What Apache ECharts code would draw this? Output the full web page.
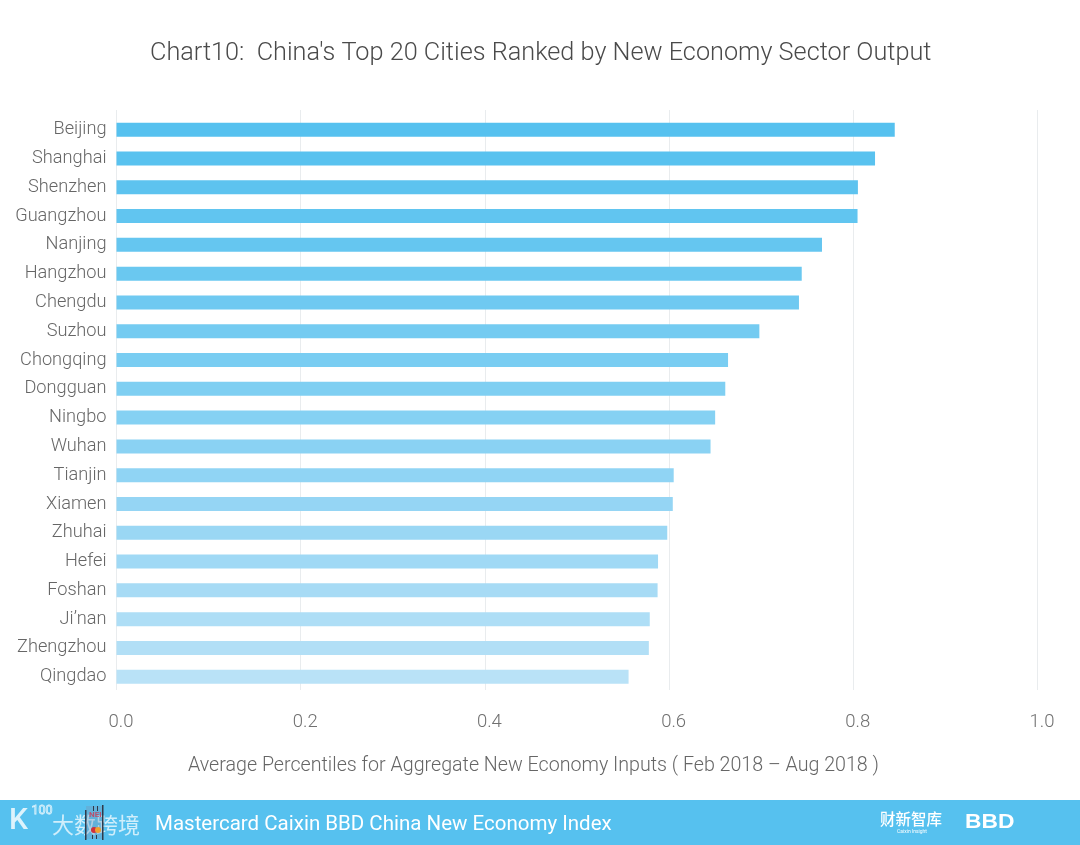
<!DOCTYPE html>
<html><head><meta charset="utf-8">
<style>html,body{margin:0;padding:0;background:#fff}#c{width:1080px;height:845px}</style>
<script src="https://cdn.jsdelivr.net/npm/echarts@6/dist/echarts.min.js"></script>
</head><body><div id="c"></div>
<script>
const cities = ["Beijing","Shanghai","Shenzhen","Guangzhou","Nanjing","Hangzhou","Chengdu","Suzhou","Chongqing","Dongguan","Ningbo","Wuhan","Tianjin","Xiamen","Zhuhai","Hefei","Foshan","Ji’nan","Zhengzhou","Qingdao"];
const values = [0.845,0.8236,0.805,0.8046,0.766,0.744,0.741,0.698,0.664,0.661,0.65,0.645,0.605,0.604,0.598,0.588,0.5875,0.579,0.578,0.556];
const barColors = ["#56c1ef","#59c2ef","#5dc3ef","#61c5f0","#65c6f0","#6ac8f0","#6fc9f1","#74cbf1","#79cdf2","#7fcff2","#85d1f3","#8ad2f3","#90d4f4","#95d5f4","#9ad7f4","#a0d9f5","#a7dbf5","#aedef6","#b2dff6","#b9e2f7"];
const xTicks = {min:0,max:1,interval:0.2};
const titleText = "Chart10:  China's Top 20 Cities Ranked by New Economy Sector Output";
const xName = "Average Percentiles for Aggregate New Economy Inputs ( Feb 2018 – Aug 2018 )";
const footerText = "Mastercard Caixin BBD China New Economy Index";
const FONT = 'Roboto';

const chart = echarts.init(document.getElementById('c'), null, {renderer:'canvas'});
const dark = '#2f3a4a';
chart.setOption({
  animation:false,
  backgroundColor:'#fff',
  textStyle:{fontFamily:FONT},
  title:[
    {text:titleText,left:145,top:36,textStyle:{fontFamily:FONT,fontSize:25.25,fontWeight:300,color:'#4a4a4a'}},
    {text:xName,left:183,top:751,textStyle:{fontFamily:FONT,fontSize:19.65,fontWeight:300,color:'#666'}}
  ],
  grid:[
    {left:116.5,width:921,top:115.3,height:575.8},
    {left:116.5,width:921,top:110,height:580,z:0}
  ],
  xAxis:[
    {type:'value',gridIndex:0,min:xTicks.min,max:xTicks.max,interval:xTicks.interval,
     axisLine:{show:false},axisTick:{show:false},splitLine:{show:false},axisLabel:{show:false}},
    {type:'value',gridIndex:1,position:'bottom',min:xTicks.min,max:xTicks.max,interval:xTicks.interval,
     axisLine:{show:false},axisTick:{show:false},
     splitLine:{show:true,lineStyle:{color:'#e9ecee',width:1}},
     axisLabel:{show:true,margin:22.5,padding:[0,0,0,9],color:'#707070',fontFamily:FONT,fontWeight:300,fontSize:18.5,
       showMinLabel:true,showMaxLabel:true,alignMinLabel:'center',alignMaxLabel:'center',
       formatter:v=>v.toFixed(1)}}
  ],
  yAxis:[
    {type:'category',gridIndex:0,inverse:true,data:cities,
     axisLine:{show:false},axisTick:{show:false},splitLine:{show:false},
     axisLabel:{margin:10,color:'#666',fontFamily:FONT,fontWeight:300,fontSize:18.2}},
    {type:'value',gridIndex:1,min:0,max:1,show:false}
  ],
  series:[{type:'bar',xAxisIndex:0,yAxisIndex:0,z:3,barWidth:14,
    data:values.map((v,i)=>({value:v,itemStyle:{color:barColors[i]}}))}],
  graphic:[
    {type:'rect',left:0,top:800,shape:{width:1080,height:45},style:{fill:'#56c1ef'},z:1},
    {type:'text',left:155,top:814.5,z:2,style:{text:footerText,fill:'#fff',fontFamily:FONT,fontSize:20.5,fontWeight:400}},
    {type:'text',left:31,top:804,z:2,style:{text:'100',fill:'rgba(255,255,255,0)',stroke:'rgba(255,255,255,0.8)',lineWidth:0.8,fontFamily:FONT,fontSize:12.5}},
    {type:'text',left:9,top:806,z:2,style:{text:'K',fill:'rgba(255,255,255,0.8)',fontFamily:FONT,fontSize:30,fontWeight:500}},
    {type:'text',left:52,top:814,z:2,style:{text:'大数跨境',fill:'rgba(255,255,255,0.72)',fontFamily:'Noto Sans CJK SC',fontSize:22,fontWeight:400}},
    {type:'rect',left:86,top:806,shape:{width:17,height:33},style:{fill:'rgba(120,150,180,0.35)'},z:3},
    {type:'rect',left:85,top:810,shape:{width:1.5,height:30},style:{fill:dark},z:4},
    {type:'rect',left:102,top:805,shape:{width:1.5,height:35},style:{fill:dark},z:4},
    {type:'rect',left:93,top:806,shape:{width:1,height:5},style:{fill:dark},z:4},
    {type:'rect',left:97,top:806,shape:{width:1,height:5},style:{fill:dark},z:4},
    {type:'rect',left:92,top:835,shape:{width:1,height:4},style:{fill:dark},z:4},
    {type:'rect',left:96,top:835,shape:{width:1,height:4},style:{fill:dark},z:4},
    {type:'text',left:89,top:811,z:4,style:{text:'NEI',fill:'#b8506e',fontFamily:FONT,fontSize:8,fontWeight:700}},
    {type:'circle',left:91,top:827,shape:{r:3},style:{fill:'#d0303a'},z:4},
    {type:'circle',left:95,top:827,shape:{r:3},style:{fill:'#f0a030'},z:5},
    {type:'text',left:880,top:811,z:2,style:{text:'财新智库',fill:'#fff',fontFamily:'Noto Sans CJK SC',fontSize:15.5,fontWeight:500}},
    {type:'text',left:897,top:829,z:2,style:{text:'Caixin Insight',fill:'#fff',fontFamily:FONT,fontSize:5}},
    {type:'text',x:965,y:812,scaleX:1.14,z:2,style:{text:'BBD',fill:'#fff',fontFamily:'Liberation Sans',fontSize:20,fontWeight:700}}
  ]
});
</script></body></html>
